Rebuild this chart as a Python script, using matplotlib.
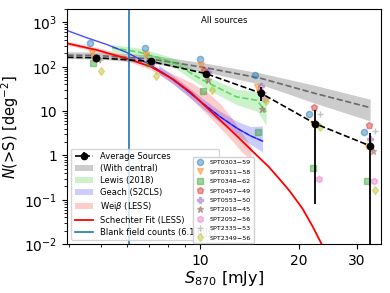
"""
Number counts N(>S) at 870um - all sources, compared to blank-field counts
"""

import numpy as np
import matplotlib
matplotlib.use('Agg')
import matplotlib.pyplot as plt
from matplotlib.ticker import NullFormatter

# ============================================
# data
# ============================================

# average of all fields (black dashed + error bars)
avg_S = [3.5, 4.84, 7.1, 10.43, 15.3, 22.4, 32.9]
avg_N = [166, 160, 132, 70, 25.5, 5.2, 1.64]
avg_err = [0, 12, 12, 10, 9, 5.12, 1.635]

# average incl. central source (gray dashed + band)
central_S = [3.5, 4.84, 7.1, 10.43, 15.3, 22.4, 32.9]
central_N = [185, 180, 150, 95, 55, 25, 12]
central_lo = [155, 150, 120, 76, 40, 15, 6]
central_hi = [220, 215, 185, 120, 72, 38, 18.5]

# Lewis (2018)
lewis_S = [5.4, 6.5, 7.5, 8.5, 9.3, 10.2, 11.5, 12.9, 14.9, 15.9]
lewis_N = [270, 215, 160, 115, 75, 50, 32, 21, 17.5, 9.6]
lewis_lo = [220, 170, 125, 88, 56, 36, 22, 14, 10, 4.8]
lewis_hi = [320, 265, 200, 145, 100, 68, 45, 31, 28, 20]

# Geach (S2CLS)
geach_S = [3.9, 4.5, 5.2, 6.0, 7.0, 8.1, 9.0, 10.2, 11.5, 12.9, 14.2, 15.5]
geach_N = [680, 460, 320, 210, 115, 58, 32, 15, 7.5, 4.2, 2.8, 2.1]
geach_band_S = [7.5, 8.1, 9.0, 10.2, 11.5, 12.9, 14.2, 15.5]
geach_lo = [70, 46, 25, 11.5, 5.6, 3.0, 1.8, 1.2]
geach_hi = [110, 72, 40, 19, 10, 6, 4.5, 4.6]

# Weiss (LESS)
weiss_S = [3.9, 5.0, 6.05, 7.1, 8.3, 9.4, 10.5, 11.5, 12.5, 13.4, 14.3]
weiss_lo = [315, 208, 132, 86, 42, 19, 8.5, 4.2, 2.2, 1.2, 0.8]
weiss_hi = [380, 260, 172, 118, 68, 44, 27, 15, 7, 3.3, 1.6]

# Schechter fit (LESS)
schechter_S = [3.9, 4.9, 6.05, 7.1, 8.3, 9.4, 10.5, 11.8, 13.2, 14.6,
               16.2, 17.4, 18.7, 20.5, 22.0, 23.4, 24.5]
schechter_N = [345, 235, 150, 100, 52, 26, 12, 5.3, 2.4, 1.15,
               0.55, 0.3, 0.16, 0.063, 0.025, 0.0102, 0.005]

blank_limit = 6.1

# individual fields
fields = ['SPT0303\u221259', 'SPT0311\u221258', 'SPT0348\u221262',
          'SPT0457\u221249', 'SPT0553\u221250', 'SPT2018\u221245',
          'SPT2052\u221256', 'SPT2335\u221253', 'SPT2349\u221256']
field_S = [
    [4.63, 6.8, 10.0, 14.7, 21.5, 31.6],
    [4.7, 6.88, 10.1, 14.9, 22.0, 32.2],
    [4.72, 7.0, 10.2, 15.0, 22.0, 32.2],
    [4.8, 7.05, 10.3, 15.2, 22.2, 32.6],
    [4.85, 7.1, 10.6, 15.3, 22.4, 32.8],
    [4.9, 7.15, 10.55, 15.4, 22.6, 33.5],
    [4.85, 7.1, 10.5, 15.8, 23.0, 33.7],
    [4.99, 7.2, 10.5, 15.5, 23.2, 34.1],
    [5.02, 7.37, 10.85, 15.9, 23.2, 34.1],
]
field_N = [
    [342, 264, 152, 64, 8.5, 3.3],
    [208, 180, 111, 35, 5.2, 1.6],
    [121, 120, 29, 3.3, 0.51, 0.26],
    [160, 135, 83, 28, 12.4, 4.8],
    [165, 130, 76, 36, 5.5, 2.4],
    [150, 125, 49, 11, 5.0, 1.27],
    [155, 130, 72, 19, 0.30, 0.26],
    [139, 128, 75, 27, 8.8, 3.5],
    [80, 61, 30, 17, 4.4, 0.17],
]
field_colors = ['tab:blue', 'tab:orange', 'tab:green', 'tab:red', 'tab:purple',
                'tab:brown', 'tab:pink', 'tab:gray', 'tab:olive']
field_markers = ['o', 'v', 's', 'p', 'P', '*', 'h', '+', 'd']

# ============================================
# plot
# ============================================

fig = plt.figure(figsize=(3.9, 2.93), dpi=100)
ax = fig.add_axes([0.172, 0.167, 0.805, 0.802])

h_central = ax.fill_between(central_S, central_lo, central_hi, color='gray', alpha=0.4, lw=0)
ax.plot(central_S, central_N, '--', color='dimgray', lw=1.2)

h_lewis = ax.fill_between(lewis_S, lewis_lo, lewis_hi, color='limegreen', alpha=0.25, lw=0)
ax.plot(lewis_S, lewis_N, '--', color='limegreen', alpha=0.7, lw=1.2)

h_weiss = ax.fill_between(weiss_S, weiss_lo, weiss_hi, color='red', alpha=0.2, lw=0)

h_geach = ax.fill_between(geach_band_S, geach_lo, geach_hi, color='blue', alpha=0.2, lw=0)
ax.plot(geach_S, geach_N, '-', color='blue', alpha=0.7, lw=1)
ax.plot(geach_S[4:], geach_N[4:], '--', color='blue', alpha=0.5, lw=1)

h_sch, = ax.plot(schechter_S, schechter_N, '-', color='red', lw=1.3)

h_blank = ax.axvline(blank_limit, color='tab:blue', lw=1.2)

field_handles = []
for name, S, N, c, m in zip(fields, field_S, field_N, field_colors, field_markers):
    h, = ax.plot(S, N, ls='none', marker=m, color=c, alpha=0.45, ms=4.5,
                 label=name, zorder=3)
    field_handles.append(h)

h_avg = ax.errorbar(avg_S, avg_N, yerr=avg_err, fmt='o--', color='k', ms=4.5,
                    lw=1.2, elinewidth=1.3, capsize=0, zorder=4)

ax.set_xscale('log')
ax.set_yscale('log')
ax.set_xlim(3.95, 35.5)
ax.set_ylim(1e-2, 2e3)

ax.set_xticks([10, 20, 30])
ax.set_xticklabels(['10', '20', '30'])
ax.xaxis.set_minor_formatter(NullFormatter())
ax.set_yticks([1e-2, 1e-1, 1, 10, 1e2, 1e3])
ax.set_yticklabels(['$10^{-2}$', '$10^{-1}$', '1', '10', '$10^{2}$', '$10^{3}$'])
ax.yaxis.set_minor_formatter(NullFormatter())
ax.tick_params(labelsize=10)

ax.set_xlabel('$S_{870}$ [mJy]', fontsize=11.5, labelpad=1)
ax.set_ylabel('$N$(>S) [deg$^{-2}$]', fontsize=10.5, labelpad=2)

ax.text(0.5, 0.95, 'All sources', transform=ax.transAxes, ha='center', va='center', fontsize=6.2)

leg1 = ax.legend([h_avg, h_central, h_lewis, h_geach, h_weiss, h_sch, h_blank],
                 ['Average Sources', '(With central)', 'Lewis (2018)', 'Geach (S2CLS)',
                  r'Wei$\beta$ (LESS)', 'Schechter Fit (LESS)',
                  'Blank field counts (%.1f mJy)' % blank_limit],
                 loc='lower left', fontsize=6, labelspacing=0.35, handlelength=2.2)
ax.add_artist(leg1)

ax.legend(handles=field_handles, loc='lower left', bbox_to_anchor=(0.39, -0.01),
          fontsize=4.6, labelspacing=0.62, handlelength=1.5, framealpha=0.9)

fig.savefig('out.png', dpi=100)
